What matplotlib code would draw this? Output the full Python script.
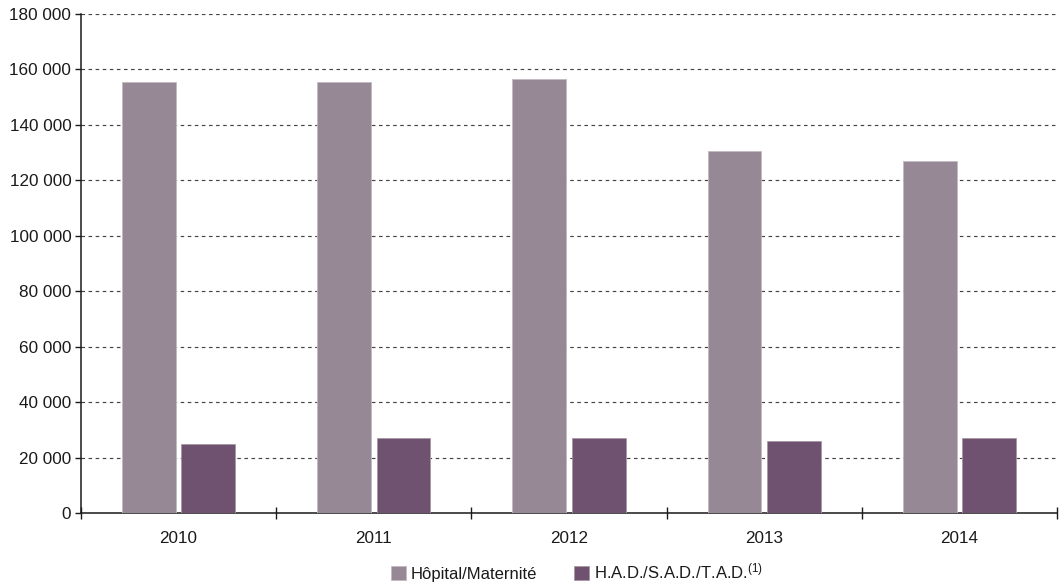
import matplotlib
matplotlib.use('Agg')
import matplotlib.pyplot as plt
import numpy as np
from matplotlib.ticker import FuncFormatter

years = ['2010', '2011', '2012', '2013', '2014']
hopital = [155600, 155300, 156600, 130500, 127100]
had = [24800, 27000, 27000, 25800, 27000]
series_labels = ['Hôpital/Maternité', 'H.A.D./S.A.D./T.A.D.$^{(1)}$']
colors = ['#978896', '#6e5270']

plt.rcParams['font.family'] = ['Liberation Sans', 'DejaVu Sans']
plt.rcParams['mathtext.fontset'] = 'custom'
plt.rcParams['mathtext.rm'] = 'Liberation Sans'
plt.rcParams['mathtext.it'] = 'Liberation Sans'
plt.rcParams['mathtext.default'] = 'regular'

fig = plt.figure(figsize=(10.62, 5.86), dpi=100)
ax = fig.add_axes([81 / 1062, 73 / 586, (1057 - 81) / 1062, (513 - 14) / 586])

x = np.arange(len(years))
width = 0.275
ax.bar(x - 0.152, hopital, width, color=colors[0], edgecolor='#c4b9c2',
       linewidth=0.6, label=series_labels[0], zorder=3)
ax.bar(x + 0.152, had, width, color=colors[1], edgecolor='#a898a6',
       linewidth=0.6, label=series_labels[1], zorder=3)

ax.set_xlim(-0.5, len(years) - 0.5)
ax.set_ylim(0, 180000)
ax.set_yticks(np.arange(0, 180001, 20000))
ax.yaxis.set_major_formatter(FuncFormatter(lambda v, p: f"{int(v):,}".replace(',', ' ')))

# boundaries as major ticks, year labels as minor ticks
ax.set_xticks(np.arange(-0.5, len(years), 1.0))
ax.set_xticklabels([])
ax.set_xticks(x, minor=True)
ax.set_xticklabels(years, minor=True)
ax.tick_params(axis='x', which='major', direction='inout', length=8, width=1, color='#1a1a1a')
ax.tick_params(axis='x', which='minor', length=0, pad=13, labelsize=12.3, labelcolor='#1a1a1a')
ax.tick_params(axis='y', direction='out', length=4, width=1, color='#1a1a1a',
               labelsize=12.3, labelcolor='#1a1a1a', pad=3)

ax.yaxis.grid(True, linestyle=(0, (3, 3)), color='#444444', linewidth=0.85, zorder=0)
ax.set_axisbelow(True)
for side in ['top', 'right']:
    ax.spines[side].set_visible(False)
for side in ['left', 'bottom']:
    ax.spines[side].set_color('#1a1a1a')
    ax.spines[side].set_linewidth(1.1)

fig.legend(loc='center', bbox_to_anchor=(0.543, 0.024), ncol=2, frameon=False,
           fontsize=12, handlelength=0.9, handleheight=0.9, handletextpad=0.3,
           columnspacing=2.2, labelcolor='#1a1a1a')

plt.savefig('out.png', dpi=100)
plt.close()
